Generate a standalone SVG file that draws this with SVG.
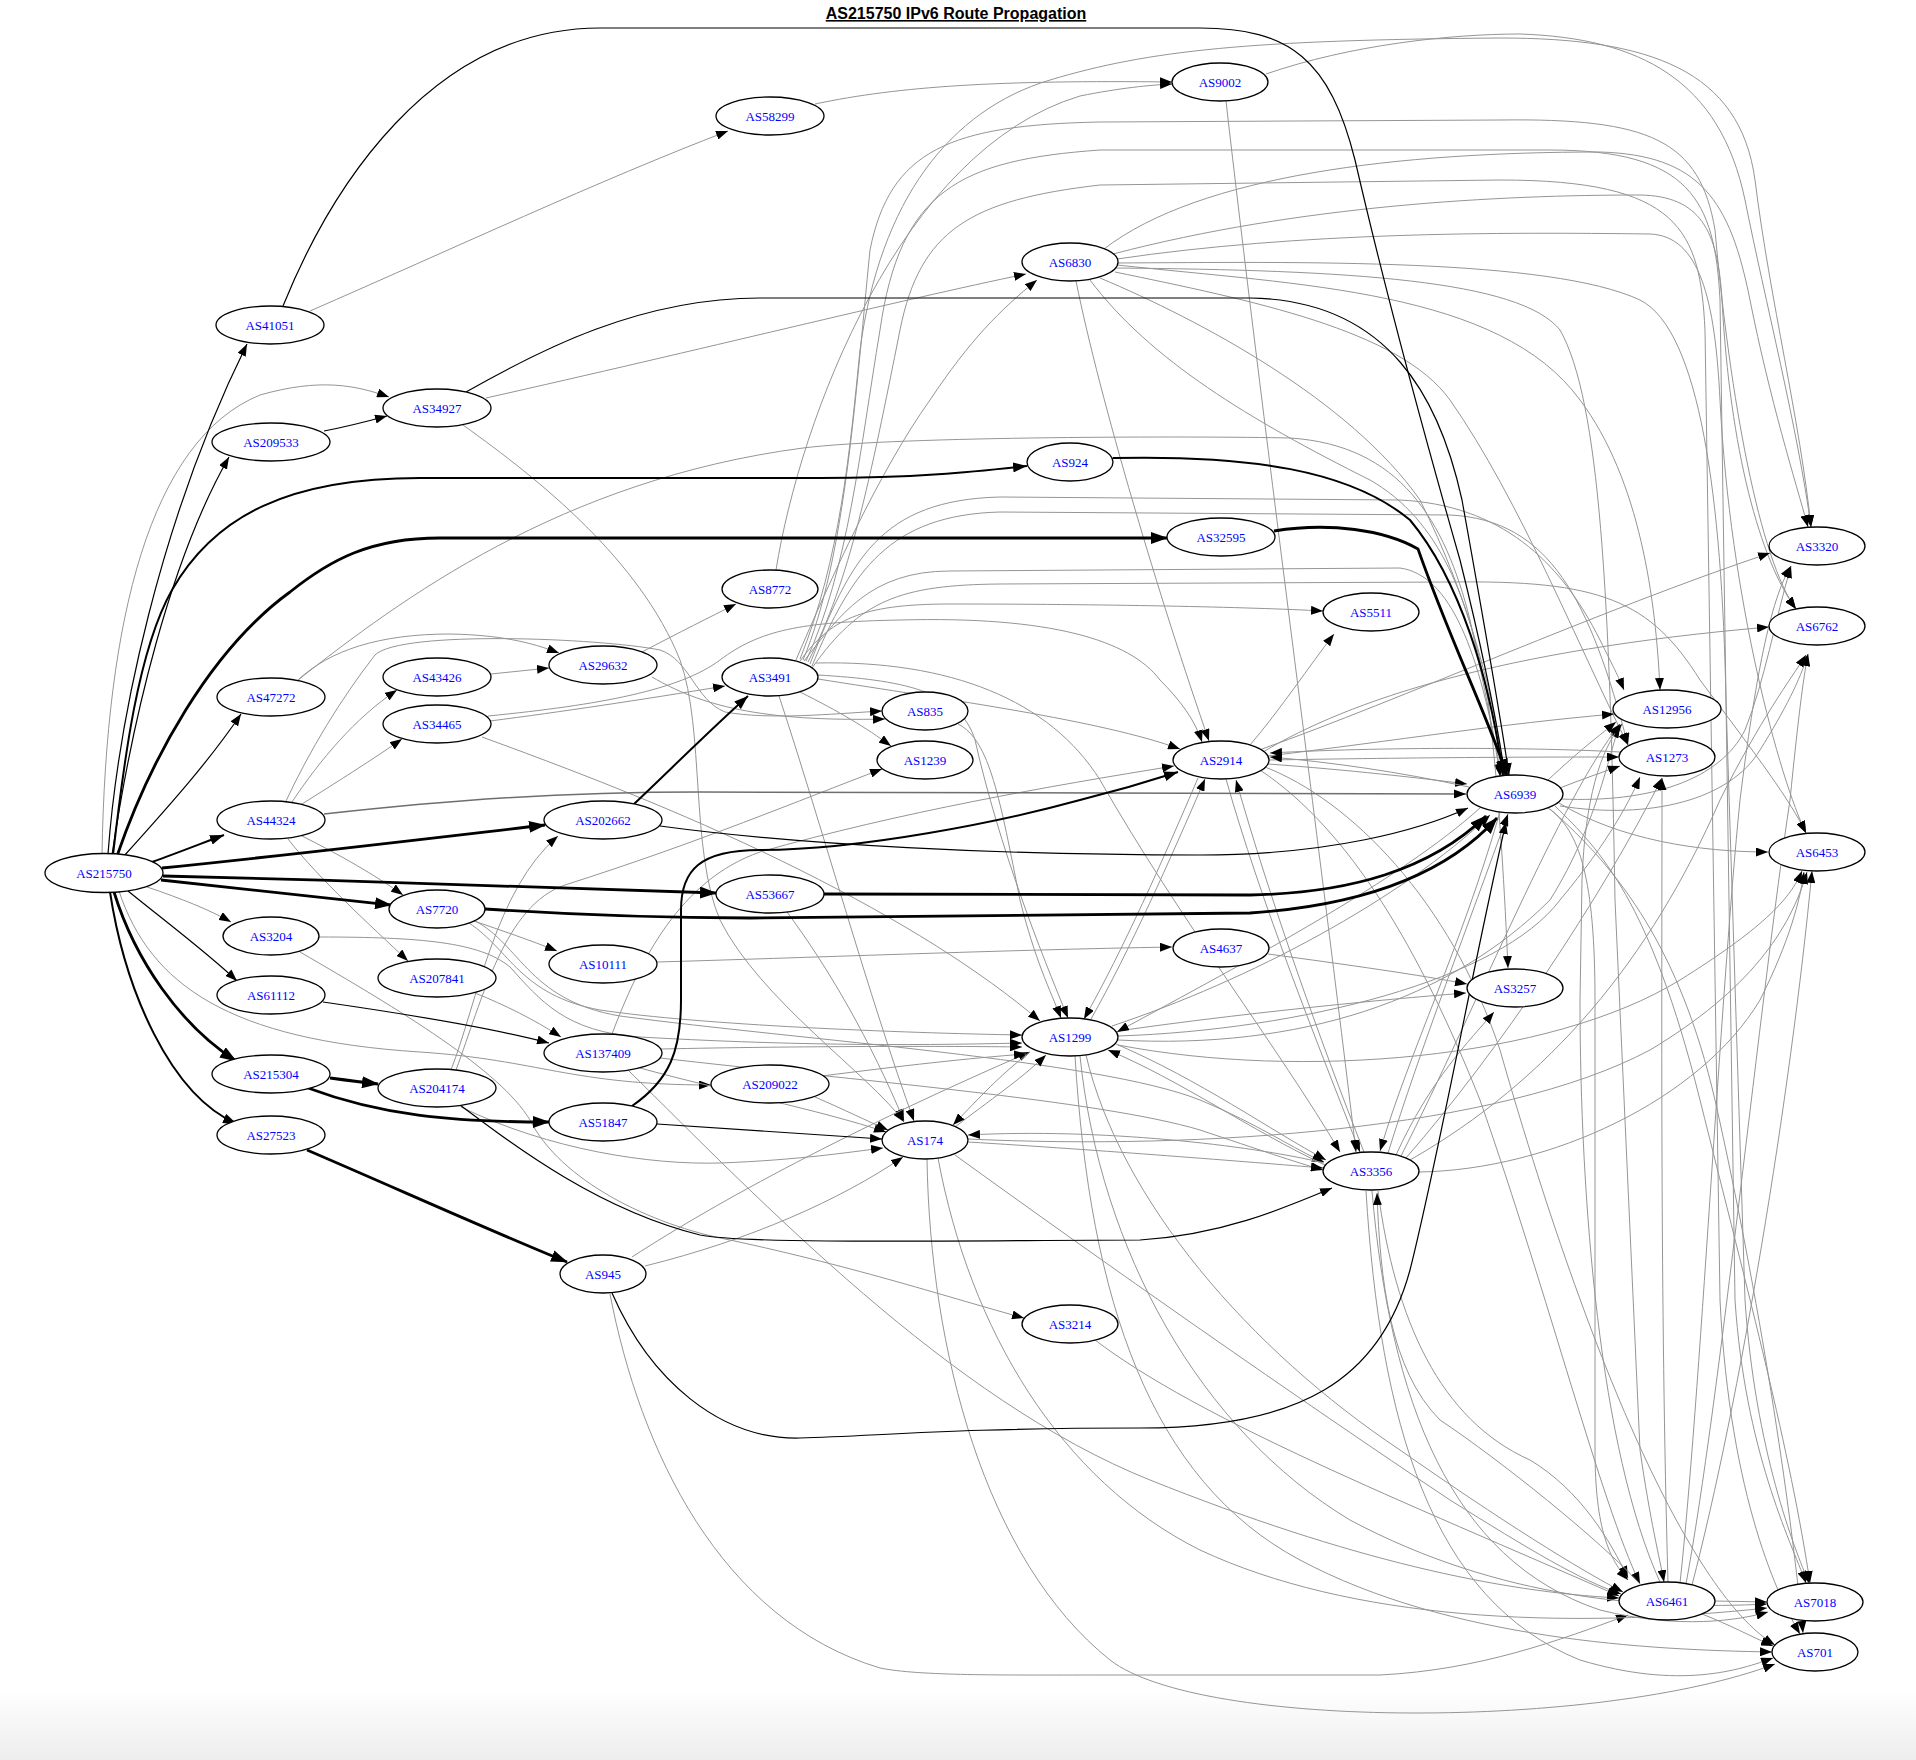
<svg xmlns="http://www.w3.org/2000/svg" width="1916" height="1760" viewBox="0 0 1916 1760">
<defs>
<linearGradient id="bg" x1="0" y1="0" x2="0" y2="1"><stop offset="0" stop-color="#ffffff"/><stop offset="1" stop-color="#ededed"/></linearGradient>
<marker id="a1" markerUnits="userSpaceOnUse" markerWidth="12" markerHeight="9" viewBox="0 0 12 9" refX="12" refY="4.5" orient="auto"><path d="M0,0L12,4.5L0,9z" fill="#000"/></marker>
<marker id="a2" markerUnits="userSpaceOnUse" markerWidth="14" markerHeight="10" viewBox="0 0 14 10" refX="14" refY="5" orient="auto"><path d="M0,0L14,5L0,10z" fill="#000"/></marker>
<marker id="a3" markerUnits="userSpaceOnUse" markerWidth="17" markerHeight="12" viewBox="0 0 17 12" refX="16" refY="6" orient="auto"><path d="M0,0L17,6L0,12z" fill="#000"/></marker>
</defs>
<style>
.n ellipse{fill:#fff;stroke:#000;stroke-width:1.3}
.n text{font-family:"Liberation Serif","Times New Roman",serif;font-size:13px;fill:#0000ff;text-anchor:middle}
.e path{fill:none}
.g{stroke:#959595;stroke-width:1;marker-end:url(#a1)}
.m{stroke:#6e6e6e;stroke-width:1.5;marker-end:url(#a1)}
.b1{stroke:#000;stroke-width:1.2;marker-end:url(#a1)}
.b2{stroke:#000;stroke-width:2;marker-end:url(#a2)}
.b3{stroke:#000;stroke-width:2.8;marker-end:url(#a3)}
.t{font-family:"Liberation Sans",Arial,sans-serif;font-size:16px;font-weight:bold;text-anchor:middle;text-decoration:underline;fill:#000}
</style>
<rect x="0" y="0" width="1916" height="1760" fill="#fff"/>
<rect x="0" y="1690" width="1916" height="70" fill="url(#bg)"/>
<text class="t" x="956" y="19">AS215750 IPv6 Route Propagation</text>
<g id="connectors" class="e">
<path class="g" d="M102,854 C106,620 150,440 260,395 C320,378 355,385 389,397"/>
<path class="g" d="M147,887 C180,898 210,910 231,922"/>
<path class="g" d="M119,891 C150,985 230,1040 420,1052 C540,1060 570,1085 711,1085"/>
<path class="g" d="M310,311 C450,250 600,180 728,131"/>
<path class="g" d="M815,104 C900,86 1000,80 1172,82"/>
<path class="g" d="M776,570 C800,420 900,150 1080,96 C1120,88 1150,85 1172,84"/>
<path class="g" d="M486,398 C700,350 900,300 1026,274"/>
<path class="g" d="M463,425 C540,480 640,560 680,660 C705,730 690,850 720,920 C760,1000 870,1075 904,1122"/>
<path class="g" d="M298,680 C400,600 560,480 803,448 C900,436 1200,436 1290,438 C1400,445 1445,520 1470,620 C1485,690 1495,740 1500,776"/>
<path class="g" d="M298,680 C330,650 380,634 450,634 C500,635 530,642 559,653"/>
<path class="g" d="M292,802 C320,760 355,718 397,690"/>
<path class="g" d="M302,804 C340,780 372,760 402,739"/>
<path class="g" d="M302,836 C340,855 375,875 403,895"/>
<path class="g" d="M288,839 C320,880 370,925 408,961"/>
<path class="g" d="M286,801 C310,750 340,700 375,655 C400,630 600,638 660,650 C690,660 695,700 725,712 C770,720 830,714 882,711"/>
<path class="g" d="M491,674 C510,672 530,670 549,668"/>
<path class="g" d="M642,652 C680,632 710,617 736,604"/>
<path class="g" d="M652,677 C700,705 760,722 885,719"/>
<path class="g" d="M490,721 C560,712 640,700 725,686"/>
<path class="g" d="M488,716 C600,705 680,690 720,660 C760,630 800,622 900,620 C1050,616 1130,640 1160,680 C1180,700 1195,720 1202,742"/>
<path class="g" d="M482,737 C600,780 700,820 800,870 C900,920 980,970 1040,1021"/>
<path class="g" d="M787,912 C830,970 870,1040 904,1121"/>
<path class="g" d="M474,921 C500,930 530,940 557,951"/>
<path class="g" d="M469,923 C510,950 520,995 600,1010 C700,1025 900,1033 1022,1035"/>
<path class="g" d="M469,918 C520,940 525,1000 620,1016 C800,1040 1100,1060 1200,1100 C1260,1125 1295,1150 1324,1162"/>
<path class="g" d="M319,937 C420,937 480,942 510,967 C540,1000 565,1032 640,1037 C780,1045 900,1046 1022,1043"/>
<path class="g" d="M300,952 C400,1010 500,1070 530,1120 C560,1180 650,1225 730,1240 C860,1268 950,1298 1024,1318"/>
<path class="g" d="M475,993 C505,1005 535,1020 561,1037"/>
<path class="g" d="M657,962 C800,958 1000,950 1172,947"/>
<path class="g" d="M1268,954 C1350,965 1420,975 1467,984"/>
<path class="g" d="M661,1049 C800,1046 950,1046 1022,1047"/>
<path class="g" d="M640,1068 C720,1090 820,1110 886,1132"/>
<path class="g" d="M612,1034 C640,960 680,880 760,852 C900,812 1050,786 1174,766"/>
<path class="g" d="M660,1058 C850,1080 1100,1100 1200,1130 C1260,1150 1295,1162 1323,1170"/>
<path class="g" d="M628,1070 C760,1200 950,1400 1150,1480 C1350,1560 1500,1592 1619,1598"/>
<path class="g" d="M461,1107 C550,1150 650,1165 720,1163 C800,1160 850,1152 883,1148"/>
<path class="g" d="M451,1070 C478,1000 495,890 558,836"/>
<path class="g" d="M456,1070 C482,1000 505,905 565,885 C700,842 800,800 882,769"/>
<path class="g" d="M632,1257 C720,1200 850,1130 1030,1052"/>
<path class="g" d="M645,1266 C750,1240 840,1200 903,1157"/>
<path class="g" d="M610,1294 C640,1450 720,1620 880,1668 C920,1676 1000,1675 1100,1675 L1380,1675 C1480,1670 1560,1640 1628,1615"/>
<path class="g" d="M822,1076 C900,1066 970,1058 1026,1054"/>
<path class="g" d="M815,1097 C845,1110 865,1120 888,1130"/>
<path class="g" d="M955,1127 C990,1100 1020,1080 1046,1055"/>
<path class="g" d="M1030,1052 C1000,1075 980,1097 953,1125"/>
<path class="g" d="M968,1142 C1100,1150 1250,1162 1323,1168"/>
<path class="g" d="M1324,1163 C1250,1145 1100,1128 968,1135"/>
<path class="g" d="M955,1155 C1100,1260 1300,1400 1450,1500 C1530,1550 1580,1580 1621,1594"/>
<path class="g" d="M938,1158 C970,1330 1060,1480 1200,1550 C1350,1620 1560,1630 1767,1608"/>
<path class="g" d="M927,1159 C930,1350 985,1560 1110,1660 C1200,1730 1600,1730 1775,1664"/>
<path class="g" d="M968,1139 C1200,1150 1500,1130 1650,1050 C1750,990 1790,930 1807,872"/>
<path class="g" d="M1116,1044 C1200,1080 1270,1130 1326,1160"/>
<path class="g" d="M1325,1165 C1250,1130 1180,1080 1108,1050"/>
<path class="g" d="M1118,1031 C1250,1012 1400,998 1466,993"/>
<path class="g" d="M1112,1026 C1250,980 1400,900 1490,815"/>
<path class="g" d="M1091,1019 C1130,950 1170,860 1205,779"/>
<path class="g" d="M1198,778 C1163,860 1123,950 1084,1019"/>
<path class="g" d="M1118,1040 C1300,1050 1450,1000 1550,900 C1600,820 1610,745 1620,726"/>
<path class="g" d="M1086,1055 C1120,1200 1250,1350 1400,1450 C1500,1520 1580,1570 1623,1592"/>
<path class="g" d="M1080,1056 C1100,1250 1200,1430 1350,1520 C1500,1600 1650,1610 1767,1604"/>
<path class="g" d="M1075,1056 C1090,1300 1150,1480 1300,1560 C1450,1640 1650,1650 1772,1652"/>
<path class="g" d="M1118,1045 C1300,1080 1550,1060 1680,980 C1760,930 1790,900 1802,871"/>
<path class="g" d="M1118,1036 C1300,1030 1500,980 1560,900 C1610,840 1630,800 1640,777"/>
<path class="g" d="M958,724 C990,740 1000,800 1020,900 C1035,960 1050,990 1061,1018"/>
<path class="g" d="M818,675 C900,680 960,690 975,740 C1000,850 1040,950 1068,1018"/>
<path class="g" d="M779,696 C820,820 870,1000 914,1121"/>
<path class="g" d="M800,692 C840,712 865,727 891,746"/>
<path class="g" d="M818,679 C950,700 1100,720 1180,749"/>
<path class="g" d="M816,663 C950,660 1050,700 1100,780 C1180,920 1280,1050 1340,1152"/>
<path class="g" d="M800,661 C830,620 860,604 950,604 C1100,604 1250,607 1323,611"/>
<path class="g" d="M804,661 C840,615 870,571 950,571 L1400,568 C1450,575 1480,650 1501,776"/>
<path class="g" d="M796,660 C830,580 880,470 930,400 C970,340 1000,310 1037,280"/>
<path class="g" d="M800,659 C840,560 850,450 860,350 C880,200 950,110 1050,80 C1150,50 1250,40 1500,38 C1650,38 1740,70 1755,180 C1770,300 1800,420 1811,527"/>
<path class="g" d="M803,660 C845,560 855,400 870,250 C890,150 950,125 1100,122 L1500,120 C1650,118 1700,140 1715,230 C1730,400 1760,560 1796,609"/>
<path class="g" d="M806,661 C848,570 860,450 880,330 C900,190 960,160 1100,150 L1550,150 C1690,150 1715,200 1720,300 L1735,1300 C1745,1450 1790,1540 1806,1583"/>
<path class="g" d="M808,662 C850,580 870,480 900,330 C920,230 970,200 1100,185 L1500,180 C1680,180 1700,230 1705,330 L1720,1300 C1730,1500 1780,1600 1800,1634"/>
<path class="g" d="M810,664 C850,560 880,500 1000,497 L1400,500 C1500,505 1560,560 1600,640 C1615,670 1620,680 1624,690"/>
<path class="g" d="M812,666 C852,570 890,515 1000,512 L1450,515 C1550,520 1590,600 1628,745"/>
<path class="g" d="M812,668 C860,600 900,585 1000,584 L1450,582 C1600,580 1650,600 1700,680 C1760,760 1790,800 1806,833"/>
<path class="g" d="M1076,281 C1100,400 1160,600 1209,741"/>
<path class="g" d="M1090,280 C1150,360 1250,420 1370,480 C1440,520 1470,600 1488,700 C1500,800 1505,900 1508,968"/>
<path class="g" d="M1104,249 C1200,175 1400,152 1600,152 C1700,155 1730,200 1750,300 C1770,400 1795,480 1808,527"/>
<path class="g" d="M1113,254 C1300,205 1500,195 1640,195 C1700,196 1718,230 1722,300 C1730,450 1760,560 1796,609"/>
<path class="g" d="M1117,259 C1300,232 1500,232 1650,234 C1700,236 1715,300 1720,400 C1730,600 1780,780 1806,833"/>
<path class="g" d="M1117,265 C1300,285 1500,290 1580,400 C1640,480 1656,600 1660,690"/>
<path class="g" d="M1115,272 C1250,300 1400,330 1450,400 C1520,500 1580,650 1628,745"/>
<path class="g" d="M1100,278 C1200,320 1350,400 1420,500 C1470,600 1495,700 1504,775"/>
<path class="g" d="M1114,268 C1350,270 1520,280 1560,330 C1600,400 1610,600 1615,900 L1640,1450 C1650,1520 1660,1560 1664,1582"/>
<path class="g" d="M1116,263 C1300,262 1550,258 1640,300 C1700,330 1722,500 1726,700 L1745,1300 C1755,1450 1795,1550 1809,1583"/>
<path class="g" d="M1268,764 C1350,770 1420,778 1467,784"/>
<path class="g" d="M1250,745 C1280,710 1310,665 1334,634"/>
<path class="g" d="M1262,749 C1400,700 1600,610 1770,553"/>
<path class="g" d="M1263,752 C1350,700 1500,650 1769,627"/>
<path class="g" d="M1268,756 C1400,740 1500,724 1614,714"/>
<path class="g" d="M1269,760 C1450,757 1550,757 1619,757"/>
<path class="g" d="M1620,752 C1550,748 1400,746 1270,753"/>
<path class="g" d="M1226,779 C1260,900 1320,1050 1360,1152"/>
<path class="g" d="M1364,1152 C1320,1040 1270,900 1236,780"/>
<path class="g" d="M1265,767 C1350,800 1450,900 1500,1050 C1600,1400 1700,1600 1775,1645"/>
<path class="g" d="M1260,770 C1350,830 1420,950 1480,1100 C1550,1300 1600,1500 1640,1584"/>
<path class="g" d="M1548,780 C1580,750 1600,735 1616,722"/>
<path class="g" d="M1560,788 C1580,780 1600,773 1620,766"/>
<path class="g" d="M1469,787 C1400,772 1330,762 1270,757"/>
<path class="g" d="M1561,799 C1650,803 1720,780 1745,730 C1765,680 1775,620 1791,566"/>
<path class="g" d="M1560,806 C1650,820 1730,800 1760,750 C1785,710 1800,680 1808,654"/>
<path class="g" d="M1559,803 C1620,840 1700,852 1768,852"/>
<path class="g" d="M1500,812 C1460,950 1410,1050 1380,1151"/>
<path class="g" d="M1548,808 C1580,830 1595,880 1595,1000 L1595,1450 C1595,1530 1610,1560 1628,1580"/>
<path class="g" d="M1555,806 C1600,850 1650,900 1700,1100 C1750,1300 1790,1450 1810,1583"/>
<path class="g" d="M1550,809 C1620,870 1680,950 1715,1100 C1760,1300 1790,1500 1803,1633"/>
<path class="g" d="M1480,808 C1400,880 1250,960 1117,1032"/>
<path class="g" d="M1388,1153 C1420,1050 1470,920 1508,814"/>
<path class="g" d="M1396,1155 C1430,1080 1470,1040 1494,1012"/>
<path class="g" d="M1419,1172 C1550,1170 1700,1100 1760,1000 C1790,940 1800,900 1804,872"/>
<path class="g" d="M1410,1160 C1550,1080 1650,960 1720,800 C1760,720 1790,680 1806,655"/>
<path class="g" d="M1401,1156 C1480,1000 1560,800 1620,724"/>
<path class="g" d="M1406,1158 C1500,1050 1600,900 1662,778"/>
<path class="g" d="M1378,1191 C1395,1320 1440,1420 1530,1460 C1580,1490 1610,1540 1628,1578"/>
<path class="g" d="M1372,1191 C1390,1400 1450,1560 1600,1610 C1680,1630 1740,1620 1768,1612"/>
<path class="g" d="M1366,1191 C1380,1420 1430,1600 1580,1660 C1680,1690 1740,1670 1773,1658"/>
<path class="g" d="M1640,1584 C1600,1540 1500,1460 1440,1420 C1390,1370 1380,1280 1377,1193"/>
<path class="g" d="M1715,1601 L1767,1602"/>
<path class="g" d="M1702,1614 C1730,1625 1750,1636 1773,1646"/>
<path class="g" d="M1680,1583 C1700,1400 1720,1000 1740,800 C1755,680 1770,600 1791,566"/>
<path class="g" d="M1686,1584 C1720,1400 1760,1000 1790,800 C1798,720 1803,680 1808,654"/>
<path class="g" d="M1692,1585 C1740,1400 1790,1100 1812,871"/>
<path class="g" d="M1660,1582 C1600,1450 1580,1200 1580,1000 L1582,880 C1585,800 1600,750 1622,724"/>
<path class="g" d="M1668,1582 C1660,1300 1662,1000 1662,778"/>
<path class="g" d="M1226,101 C1260,400 1320,850 1356,1152"/>
<path class="g" d="M1266,74 C1350,45 1450,34 1520,34 C1640,38 1720,80 1745,200 C1765,300 1798,430 1811,527"/>
<path class="g" d="M1095,1340 C1200,1420 1400,1500 1619,1596"/>
<path class="m" d="M324,814 C450,800 560,792 700,792 L1466,794"/>
<path class="b1" d="M108,854 C118,720 160,520 247,344"/>
<path class="b1" d="M112,855 C132,720 170,560 229,457"/>
<path class="b2" d="M113,855 C124,760 138,650 172,590 C215,515 290,478 420,478 L820,478 C920,478 980,471 1027,466"/>
<path class="b3" d="M117,856 C150,760 210,650 290,592 C330,560 370,538 440,538 L1167,538"/>
<path class="b1" d="M124,856 C170,805 210,760 241,714"/>
<path class="b2" d="M152,862 C180,852 205,842 224,835"/>
<path class="b3" d="M162,868 C300,854 450,836 545,825"/>
<path class="b3" d="M163,876 C350,880 550,888 716,893"/>
<path class="b3" d="M161,880 C250,889 320,897 391,905"/>
<path class="b1" d="M128,891 C170,925 210,955 237,981"/>
<path class="b3" d="M114,892 C135,960 180,1025 236,1061"/>
<path class="b2" d="M110,892 C125,990 170,1095 237,1124"/>
<path class="b1" d="M283,306 C330,190 430,28 600,28 L1200,28 C1290,28 1330,60 1355,160 C1385,290 1420,420 1460,560 C1480,640 1495,710 1505,775"/>
<path class="b1" d="M324,431 C345,427 365,422 387,416"/>
<path class="b1" d="M466,392 C540,350 640,298 760,298 L1250,298 C1390,300 1440,400 1462,500 C1480,600 1498,700 1509,775"/>
<path class="b2" d="M1113,458 C1250,455 1350,470 1410,520 C1460,580 1490,680 1503,775"/>
<path class="b3" d="M1274,531 C1330,522 1385,530 1418,549 C1450,640 1485,710 1507,775"/>
<path class="b2" d="M634,804 C670,770 710,730 748,696"/>
<path class="b1" d="M660,826 C800,845 1000,855 1200,855 C1330,855 1420,830 1468,808"/>
<path class="b3" d="M824,894 L1250,895 C1350,893 1430,870 1486,816"/>
<path class="b3" d="M485,909 C560,914 650,918 750,918 L1250,913 C1370,905 1450,870 1497,818"/>
<path class="b1" d="M323,1002 C420,1016 500,1030 549,1043"/>
<path class="b3" d="M330,1078 C345,1080 360,1082 378,1084"/>
<path class="b3" d="M308,1088 C380,1115 450,1122 549,1122"/>
<path class="b1" d="M460,1105 C520,1150 600,1210 700,1235 C750,1245 1000,1240 1140,1240 C1220,1235 1280,1210 1332,1188"/>
<path class="b2" d="M632,1106 C670,1080 681,1050 681,1000 L681,910 C681,870 700,850 760,850 C860,850 1000,822 1080,800 C1120,790 1150,781 1178,772"/>
<path class="b1" d="M657,1124 C750,1130 820,1135 882,1139"/>
<path class="b3" d="M307,1150 C400,1190 500,1235 567,1262"/>
<path class="b1" d="M612,1293 C650,1380 720,1440 800,1438 C880,1436 950,1428 1140,1428 C1300,1428 1380,1380 1410,1270 C1440,1150 1470,980 1506,822"/>
</g>
<g id="AS215750" class="n"><ellipse cx="104" cy="873" rx="59" ry="19.5"/><text x="104" y="877.5">AS215750</text></g>
<g id="AS41051" class="n"><ellipse cx="270" cy="325" rx="54" ry="19"/><text x="270" y="329.5">AS41051</text></g>
<g id="AS34927" class="n"><ellipse cx="437" cy="408" rx="54" ry="19"/><text x="437" y="412.5">AS34927</text></g>
<g id="AS209533" class="n"><ellipse cx="271" cy="442" rx="59" ry="19"/><text x="271" y="446.5">AS209533</text></g>
<g id="AS58299" class="n"><ellipse cx="770" cy="116" rx="54" ry="19"/><text x="770" y="120.5">AS58299</text></g>
<g id="AS9002" class="n"><ellipse cx="1220" cy="82" rx="48" ry="19"/><text x="1220" y="86.5">AS9002</text></g>
<g id="AS6830" class="n"><ellipse cx="1070" cy="262" rx="48" ry="19"/><text x="1070" y="266.5">AS6830</text></g>
<g id="AS924" class="n"><ellipse cx="1070" cy="462" rx="43" ry="19"/><text x="1070" y="466.5">AS924</text></g>
<g id="AS32595" class="n"><ellipse cx="1221" cy="537" rx="54" ry="19"/><text x="1221" y="541.5">AS32595</text></g>
<g id="AS8772" class="n"><ellipse cx="770" cy="589" rx="48" ry="19"/><text x="770" y="593.5">AS8772</text></g>
<g id="AS47272" class="n"><ellipse cx="271" cy="697" rx="54" ry="19"/><text x="271" y="701.5">AS47272</text></g>
<g id="AS43426" class="n"><ellipse cx="437" cy="677" rx="54" ry="19"/><text x="437" y="681.5">AS43426</text></g>
<g id="AS29632" class="n"><ellipse cx="603" cy="665" rx="54" ry="19"/><text x="603" y="669.5">AS29632</text></g>
<g id="AS34465" class="n"><ellipse cx="437" cy="724" rx="54" ry="19"/><text x="437" y="728.5">AS34465</text></g>
<g id="AS3491" class="n"><ellipse cx="770" cy="677" rx="48" ry="19"/><text x="770" y="681.5">AS3491</text></g>
<g id="AS835" class="n"><ellipse cx="925" cy="711" rx="43" ry="19"/><text x="925" y="715.5">AS835</text></g>
<g id="AS1239" class="n"><ellipse cx="925" cy="760" rx="48" ry="19"/><text x="925" y="764.5">AS1239</text></g>
<g id="AS2914" class="n"><ellipse cx="1221" cy="760" rx="48" ry="19"/><text x="1221" y="764.5">AS2914</text></g>
<g id="AS5511" class="n"><ellipse cx="1371" cy="612" rx="48" ry="19"/><text x="1371" y="616.5">AS5511</text></g>
<g id="AS3320" class="n"><ellipse cx="1817" cy="546" rx="48" ry="19"/><text x="1817" y="550.5">AS3320</text></g>
<g id="AS6762" class="n"><ellipse cx="1817" cy="626" rx="48" ry="19"/><text x="1817" y="630.5">AS6762</text></g>
<g id="AS12956" class="n"><ellipse cx="1667" cy="709" rx="54" ry="19"/><text x="1667" y="713.5">AS12956</text></g>
<g id="AS1273" class="n"><ellipse cx="1667" cy="757" rx="48" ry="19"/><text x="1667" y="761.5">AS1273</text></g>
<g id="AS6939" class="n"><ellipse cx="1515" cy="794" rx="48" ry="19"/><text x="1515" y="798.5">AS6939</text></g>
<g id="AS6453" class="n"><ellipse cx="1817" cy="852" rx="48" ry="19"/><text x="1817" y="856.5">AS6453</text></g>
<g id="AS44324" class="n"><ellipse cx="271" cy="820" rx="54" ry="19"/><text x="271" y="824.5">AS44324</text></g>
<g id="AS202662" class="n"><ellipse cx="603" cy="820" rx="59" ry="19"/><text x="603" y="824.5">AS202662</text></g>
<g id="AS53667" class="n"><ellipse cx="770" cy="894" rx="54" ry="19"/><text x="770" y="898.5">AS53667</text></g>
<g id="AS7720" class="n"><ellipse cx="437" cy="909" rx="48" ry="19"/><text x="437" y="913.5">AS7720</text></g>
<g id="AS3204" class="n"><ellipse cx="271" cy="936" rx="48" ry="19"/><text x="271" y="940.5">AS3204</text></g>
<g id="AS10111" class="n"><ellipse cx="603" cy="964" rx="54" ry="19"/><text x="603" y="968.5">AS10111</text></g>
<g id="AS207841" class="n"><ellipse cx="437" cy="978" rx="59" ry="19"/><text x="437" y="982.5">AS207841</text></g>
<g id="AS4637" class="n"><ellipse cx="1221" cy="948" rx="48" ry="19"/><text x="1221" y="952.5">AS4637</text></g>
<g id="AS3257" class="n"><ellipse cx="1515" cy="988" rx="48" ry="19"/><text x="1515" y="992.5">AS3257</text></g>
<g id="AS61112" class="n"><ellipse cx="271" cy="995" rx="54" ry="19"/><text x="271" y="999.5">AS61112</text></g>
<g id="AS137409" class="n"><ellipse cx="603" cy="1053" rx="59" ry="19"/><text x="603" y="1057.5">AS137409</text></g>
<g id="AS1299" class="n"><ellipse cx="1070" cy="1037" rx="48" ry="19"/><text x="1070" y="1041.5">AS1299</text></g>
<g id="AS215304" class="n"><ellipse cx="271" cy="1074" rx="59" ry="19"/><text x="271" y="1078.5">AS215304</text></g>
<g id="AS204174" class="n"><ellipse cx="437" cy="1088" rx="59" ry="19"/><text x="437" y="1092.5">AS204174</text></g>
<g id="AS209022" class="n"><ellipse cx="770" cy="1084" rx="59" ry="19"/><text x="770" y="1088.5">AS209022</text></g>
<g id="AS51847" class="n"><ellipse cx="603" cy="1122" rx="54" ry="19"/><text x="603" y="1126.5">AS51847</text></g>
<g id="AS27523" class="n"><ellipse cx="271" cy="1135" rx="54" ry="19"/><text x="271" y="1139.5">AS27523</text></g>
<g id="AS174" class="n"><ellipse cx="925" cy="1140" rx="43" ry="19"/><text x="925" y="1144.5">AS174</text></g>
<g id="AS3356" class="n"><ellipse cx="1371" cy="1171" rx="48" ry="19"/><text x="1371" y="1175.5">AS3356</text></g>
<g id="AS945" class="n"><ellipse cx="603" cy="1274" rx="43" ry="19"/><text x="603" y="1278.5">AS945</text></g>
<g id="AS3214" class="n"><ellipse cx="1070" cy="1324" rx="48" ry="19"/><text x="1070" y="1328.5">AS3214</text></g>
<g id="AS6461" class="n"><ellipse cx="1667" cy="1601" rx="48" ry="19"/><text x="1667" y="1605.5">AS6461</text></g>
<g id="AS7018" class="n"><ellipse cx="1815" cy="1602" rx="48" ry="19"/><text x="1815" y="1606.5">AS7018</text></g>
<g id="AS701" class="n"><ellipse cx="1815" cy="1652" rx="43" ry="19"/><text x="1815" y="1656.5">AS701</text></g>
</svg>
